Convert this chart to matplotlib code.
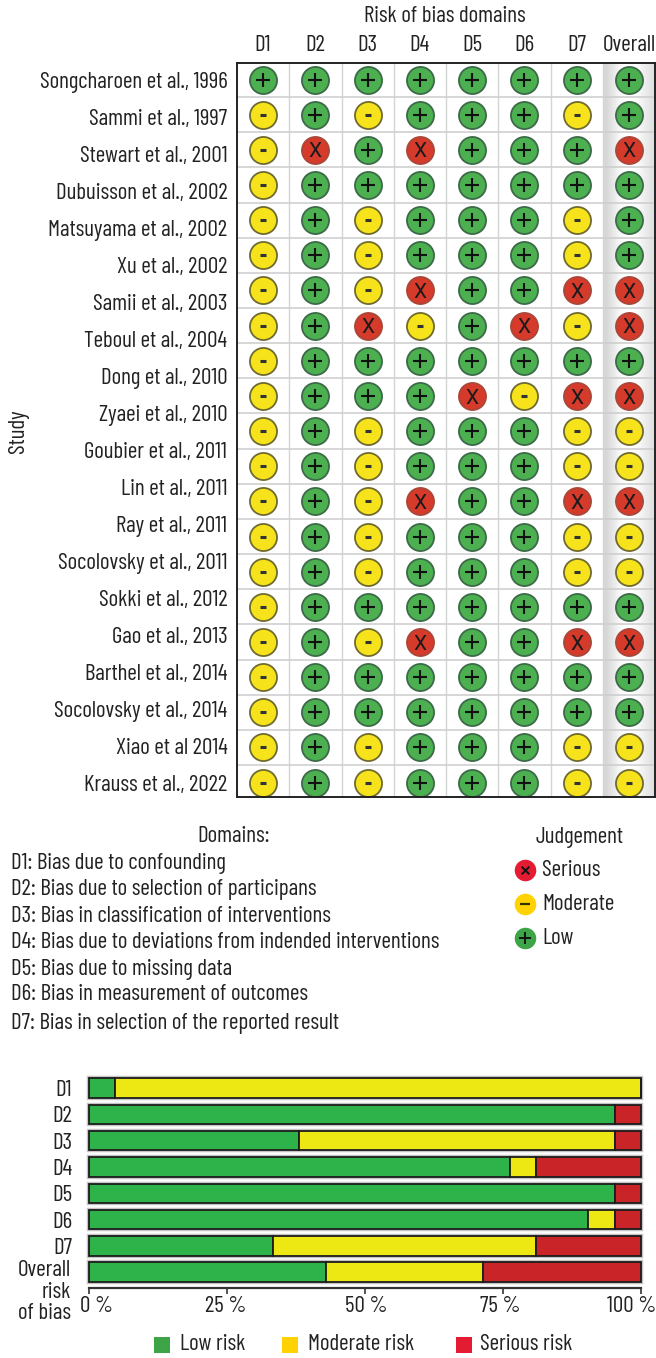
import numpy as np
import matplotlib
matplotlib.use("Agg")
import matplotlib.pyplot as plt
from matplotlib.patches import Rectangle

plt.rcParams['font.family'] = ['Barlow Condensed', 'Roboto', 'DejaVu Sans']

# Data
studies = ["Songcharoen et al., 1996", "Sammi et al., 1997", "Stewart et al., 2001",
           "Dubuisson et al., 2002", "Matsuyama et al., 2002", "Xu et al., 2002",
           "Samii et al., 2003", "Teboul et al., 2004", "Dong et al., 2010",
           "Zyaei et al., 2010", "Goubier et al., 2011", "Lin et al., 2011",
           "Ray et al., 2011", "Socolovsky et al., 2011", "Sokki et al., 2012",
           "Gao et al., 2013", "Barthel et al., 2014", "Socolovsky et al., 2014",
           "Xiao et al 2014", "Krauss et al., 2022"]
domains = ["D1", "D2", "D3", "D4", "D5", "D6", "D7", "Overall"]

# one string per drawn row of the matrix, there are 21 rows but only 20 labels
judgements = ["++++++++",
              "-+-+++-+",
              "-X+X+++X",
              "-+++++++",
              "-+-+++-+",
              "-+-+++-+",
              "-+-X++XX",
              "-+X-+X-X",
              "-+++++++",
              "-+++X-XX",
              "-+-+++--",
              "-+-+++--",
              "-+-X++XX",
              "-+-+++--",
              "-+-+++--",
              "-+++++++",
              "-+-X++XX",
              "-+++++++",
              "-+++++++",
              "-+-+++--",
              "-+-+++--"]

domain_text = ["D1: Bias due to confounding",
               "D2: Bias due to selection of participans",
               "D3: Bias in classification of interventions",
               "D4: Bias due to deviations from indended interventions",
               "D5: Bias due to missing data",
               "D6: Bias in measurement of outcomes",
               "D7: Bias in selection of the reported result"]

bar_labels = ["D1", "D2", "D3", "D4", "D5", "D6", "D7", "Overall\nrisk\nof bias"]
low_pct = [4.76, 95.24, 38.10, 76.19, 95.24, 90.48, 33.33, 42.86]
moderate_pct = [95.24, 0, 57.14, 4.76, 0, 4.76, 47.62, 28.57]
serious_pct = [0, 4.76, 4.76, 19.05, 4.76, 4.76, 19.05, 28.57]
pct_ticks = [0, 25, 50, 75, 100]
pct_labels = ["0 %", "25 %", "50 %", "75 %", "100 %"]

W, H = 656, 1358
fig = plt.figure(figsize=(W / 100, H / 100), dpi=100, facecolor='white')
FS = 16.6
TXT = '#222222'


def ftext(x, y, s, **kw):
    # text placed with pixel coordinates of the picture
    kw.setdefault('fontsize', FS)
    kw.setdefault('color', TXT)
    kw.setdefault('va', 'center')
    return fig.text(x / W, 1 - y / H, s, **kw)


def axes_px(left, top, right, bottom):
    return fig.add_axes([left / W, 1 - bottom / H, (right - left) / W, (bottom - top) / H])


#### matrix ####
ax = axes_px(237, 63, 655, 797)

shade = np.array([[0.84, 0.9, 0.97, 1.0, 1.0, 0.97, 0.92, 0.88]])
ax.imshow(shade, cmap='gray', vmin=0, vmax=1, extent=[6.5, 7.5, 20.41, -0.47],
          aspect='auto', interpolation='bilinear', zorder=0)
ax.set_xlim(-0.5, 7.5)
ax.set_ylim(20.41, -0.47)

for i in range(1, 8):
    ax.axvline(i - 0.5, color='#d2d6d2', lw=1, zorder=1)
for i in range(1, 21):
    ax.axhline(i - 0.5, color='#cfcfcf', lw=1.2, zorder=1)

colors = {'+': '#4CAF50', '-': '#F6E31C', 'X': '#D63A2A'}
edges = {'+': '#3c6a48', '-': '#6f6a30', 'X': '#a8473a'}
for row, line in enumerate(judgements):
    for col, j in enumerate(line):
        ax.scatter(col, row, s=380, color=colors[j], edgecolors=edges[j], linewidths=1.3, zorder=2)
        if j == '+':
            ax.scatter(col, row, s=105, marker='+', color='#111111', linewidths=1.5, zorder=3)
        elif j == '-':
            ax.scatter(col, row, s=22, marker='_', color='#333333', linewidths=2.2, zorder=3)
        else:
            # the glyph sits high when centred, so push it down a little
            ax.text(col, row + 0.06, 'X', fontsize=15, color='#1a1a1a', ha='center', va='center',
                    family=['Roboto', 'DejaVu Sans'], zorder=3)

ax.set_yticks(np.linspace(0, 20, 20))
ax.set_yticklabels(studies, fontsize=FS, color=TXT)
ax.tick_params(axis='y', length=0, pad=7)
ax.xaxis.tick_top()
ax.set_xticks(range(8))
ax.set_xticklabels(domains, fontsize=FS, color=TXT)
ax.tick_params(axis='x', length=0, pad=5)
for s in ax.spines.values():
    s.set_color('#222222')
    s.set_linewidth(1.4)

ftext(445, 17, "Risk of bias domains", ha='center')
ftext(19, 431, "Study", rotation=90, ha='center')

#### text legends ####
ftext(234, 837, "Domains:", ha='center')
ftext(579, 837, "Judgement", ha='center')
for y, s in zip([863, 889, 916, 942, 969, 995, 1023], domain_text):
    ftext(11, y, s)

leg = axes_px(500, 850, 656, 960)
leg.set_xlim(500, 656)
leg.set_ylim(960, 850)
leg.axis('off')
leg.scatter([525], [870], s=210, color='#E31B33', zorder=2)
leg.scatter([525], [904], s=210, color='#FFD200', zorder=2)
leg.scatter([525], [938], s=210, color='#3DA447', zorder=2)
leg.scatter([525], [870], s=30, marker='x', color='#111111', linewidths=1.4, zorder=3)
leg.scatter([525], [904], s=60, marker='_', color='#333300', linewidths=1.6, zorder=3)
leg.scatter([525], [938], s=70, marker='+', color='#111111', linewidths=1.4, zorder=3)
ftext(542, 870, "Serious")
ftext(542, 905, "Moderate")
ftext(542, 938, "Low")

#### stacked bars ####
bx = axes_px(89, 1070, 641, 1288)
y = np.arange(len(bar_labels))
low = np.array(low_pct)
mod = np.array(moderate_pct)
ser = np.array(serious_pct)
bh = 0.74
bx.barh(y, low + mod + ser, left=0, height=bh, color='none', edgecolor='#c4c4c4', linewidth=3.2, zorder=1, clip_on=False)
bx.barh(y, low, height=bh, color='#2DB34A', edgecolor='#1c1c1c', linewidth=1.3, zorder=2, clip_on=False)
bx.barh(y, mod, left=low, height=bh, color='#EDE813', edgecolor='#1c1c1c', linewidth=1.3, zorder=2, clip_on=False)
bx.barh(y, ser, left=low + mod, height=bh, color='#C92528', edgecolor='#1c1c1c', linewidth=1.3, zorder=2, clip_on=False)
bx.set_xlim(0, 100)
bx.set_ylim(7.6, -0.69)
bx.set_yticks(y[:-1])
bx.set_yticklabels(bar_labels[:-1], fontsize=FS, color=TXT)
bx.tick_params(axis='y', length=0, pad=12)
bx.set_xticks(pct_ticks)
bx.set_xticklabels([])
bx.tick_params(axis='x', length=4, width=1.2, color='#333333')
for name in ['top', 'right', 'left']:
    bx.spines[name].set_visible(False)
bx.spines['bottom'].set_color('#333333')
bx.spines['bottom'].set_linewidth(1.6)

ftext(71, 1292, bar_labels[-1], ha='right', linespacing=1.05, multialignment='right')
for xp, s, in zip([96, 226, 366, 500, 632], pct_labels):
    ftext(xp, 1306, s, ha='center')

# bottom legend
swatches = [(154, '#3DA447', "Low risk", 180),
            (282, '#FFD200', "Moderate risk", 308),
            (456, '#E31B33', "Serious risk", 480)]
for xp, col, s, tx in swatches:
    fig.patches.append(Rectangle((xp / W, 1 - 1353 / H), 16 / W, 16 / H, transform=fig.transFigure,
                                 facecolor=col, edgecolor='none', figure=fig))
    ftext(tx, 1345, s)

fig.savefig('out.png', dpi=100)
